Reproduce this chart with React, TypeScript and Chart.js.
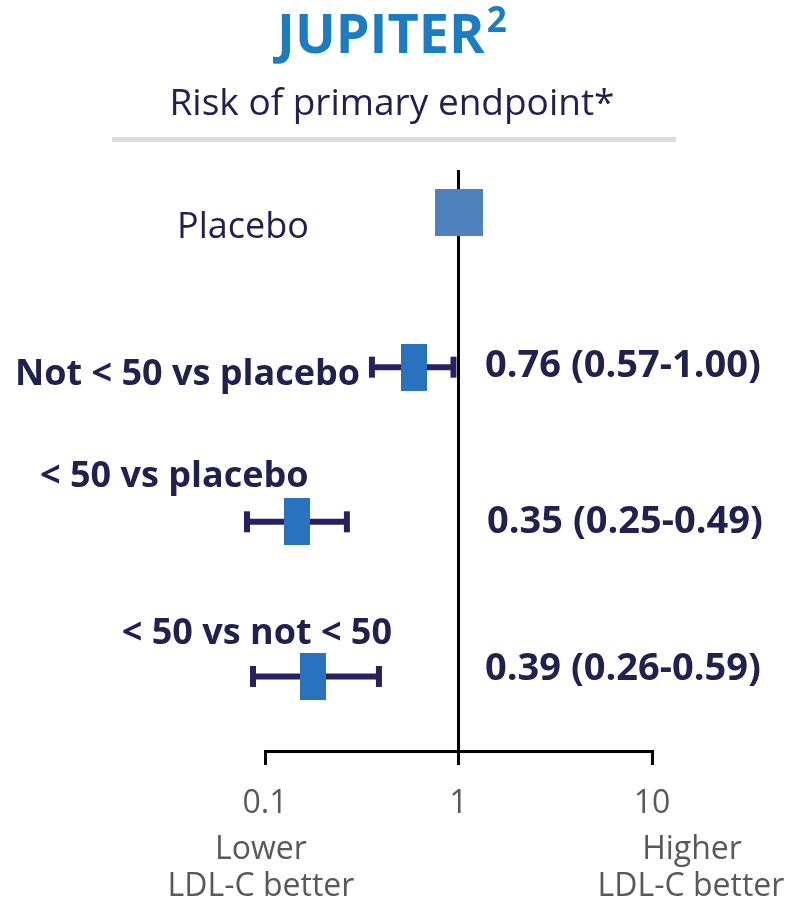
import { useEffect, useRef } from 'react';
import { Chart, registerables } from 'chart.js';

Chart.register(...registerables);

// ---------------- data ----------------
const rowLabels = ['Placebo', 'Not < 50 vs placebo', '< 50 vs placebo', '< 50 vs not < 50'];
const rowIndex = [0, 1, 2, 3];
// plotted point estimates (as drawn in the picture)
const estimates = [1, 0.589, 0.146, 0.177];
const ciLow: (number | null)[] = [null, 0.357, 0.0807, 0.0867];
const ciHigh: (number | null)[] = [null, 0.942, 0.265, 0.388];
const valueLabels = ['', '0.76 (0.57-1.00)', '0.35 (0.25-0.49)', '0.39 (0.26-0.59)'];
const xTicks = [0.1, 1, 10];
const titleText = 'JUPITER';
const titleSup = '2';
const subtitleText = 'Risk of primary endpoint*';
const footLeft = ['Lower', 'LDL-C better'];
const footRight = ['Higher', 'LDL-C better'];

// ---------------- styles / layout ----------------
const FONT = '"Open Sans", "Noto Sans", sans-serif';
const NAVY = '#22204f';
const WHISKER = '#27225f';
const GRAY_TEXT = '#595959';
const TITLE_BLUE = '#1a7cc2';

const labelLayout = [
  { x: 177, y: 238, align: 'left', weight: 400 },
  { x: 360, y: 385, align: 'right', weight: 700 },
  { x: 40, y: 487, align: 'left', weight: 700 },
  { x: 392, y: 644, align: 'right', weight: 700 },
];
const valueLayout = [null, { x: 485, y: 377 }, { x: 487, y: 533 }, { x: 485, y: 680 }];

function makeBox(w: number, h: number, color: string) {
  const c = document.createElement('canvas');
  c.width = w;
  c.height = h;
  const g = c.getContext('2d')!;
  g.fillStyle = color;
  g.fillRect(0, 0, w, h);
  return c;
}

const textPlugin = {
  id: 'forestText',
  afterDraw(chart: any) {
    const ctx = chart.ctx as CanvasRenderingContext2D;
    ctx.save();
    ctx.textBaseline = 'alphabetic';

    // title
    ctx.fillStyle = TITLE_BLUE;
    ctx.font = `700 54px ${FONT}`;
    ctx.textAlign = 'left';
    ctx.fillText(titleText, 277, 53);
    const tw = ctx.measureText(titleText).width;
    ctx.font = `700 35px ${FONT}`;
    ctx.fillText(titleSup, 277 + tw + 2, 32);

    // subtitle
    ctx.fillStyle = NAVY;
    ctx.font = `400 37px ${FONT}`;
    ctx.textAlign = 'center';
    ctx.fillText(subtitleText, 392, 115);

    // separator
    ctx.fillStyle = '#dcdcdc';
    ctx.fillRect(112, 137, 564, 5);

    // row labels
    rowLabels.forEach((lab, i) => {
      const l = labelLayout[i];
      ctx.fillStyle = NAVY;
      ctx.font = `${l.weight} 36px ${FONT}`;
      ctx.textAlign = l.align as CanvasTextAlign;
      ctx.fillText(lab, l.x, l.y);
    });

    // value labels
    valueLabels.forEach((v, i) => {
      const l = valueLayout[i];
      if (!l || !v) return;
      ctx.fillStyle = NAVY;
      ctx.font = `700 38px ${FONT}`;
      ctx.textAlign = 'left';
      ctx.fillText(v, l.x, l.y);
    });

    // footers
    ctx.fillStyle = GRAY_TEXT;
    ctx.font = `400 32px ${FONT}`;
    ctx.textAlign = 'center';
    ctx.fillText(footLeft[0], 261, 859);
    ctx.fillText(footLeft[1], 261, 896);
    ctx.fillText(footRight[0], 692, 859);
    ctx.fillText(footRight[1], 691, 896);
    ctx.restore();
  },
};

export default function App() {
  const ref = useRef<HTMLCanvasElement>(null);
  useEffect(() => {
    document.body.style.margin = '0';
    const canvas = ref.current!;
    const placeboBox = makeBox(48, 47, '#4f81bd');
    const effectBox = makeBox(26, 47, '#2872be');

    const whiskers: any[] = [];
    rowIndex.forEach((r, i) => {
      const lo = ciLow[i];
      const hi = ciHigh[i];
      if (lo == null || hi == null) return;
      whiskers.push({
        label: rowLabels[i] + ' CI',
        data: [
          { x: lo, y: r },
          { x: hi, y: r },
        ],
        showLine: true,
        clip: false,
        borderColor: WHISKER,
        borderWidth: 6,
        borderCapStyle: 'butt',
        pointStyle: 'line',
        rotation: 90,
        pointRadius: 10.5,
        pointHoverRadius: 40,
        pointBorderWidth: 6,
        pointBorderColor: WHISKER,
        pointBackgroundColor: WHISKER,
        order: 1,
      });
    });

    const squares = {
      label: 'Estimate',
      data: rowIndex.map((r, i) => ({ x: estimates[i], y: r })),
      pointStyle: (c: any) => (c.dataIndex === 0 ? placeboBox : effectBox),
      pointRadius: 5,
      pointHoverRadius: 40,
      clip: false,
      order: 0,
    };

    const chart = new Chart(canvas, {
      type: 'scatter',
      data: { datasets: [squares as any, ...whiskers] },
      options: {
        animation: false,
        responsive: false,
        devicePixelRatio: 1,
        events: [],
        layout: { padding: { left: 265, right: 137, top: 170, bottom: 88 } },
        plugins: {
          legend: { display: false },
          tooltip: { enabled: false },
        },
        scales: {
          x: {
            type: 'logarithmic',
            min: 0.1,
            max: 10,
            afterBuildTicks: (axis: any) => {
              axis.ticks = xTicks.map((v) => ({ value: v }));
            },
            afterFit: (axis: any) => {
              axis.height = 70;
            },
            ticks: {
              autoSkip: false,
              maxRotation: 0,
              padding: 20,
              color: GRAY_TEXT,
              font: { family: FONT, size: 32 },
              callback: (v: any) => String(v),
            },
            grid: {
              drawOnChartArea: true,
              drawTicks: true,
              tickLength: 14,
              lineWidth: 3,
              tickColor: '#000',
              color: (c: any) => (c.tick && c.tick.value === 1 ? '#000' : 'rgba(0,0,0,0)'),
            },
            border: { display: true, color: '#000', width: 3 },
          },
          y: {
            type: 'linear',
            display: false,
            reverse: true,
            min: -0.275,
            max: 3.482,
          },
        },
      } as any,
      plugins: [textPlugin],
    });
    return () => chart.destroy();
  }, []);
  return (
    <div style={{ position: 'absolute', left: 0, top: 0, width: 789, height: 909 }}>
      <canvas ref={ref} width={789} height={909} style={{ display: 'block' }} />
    </div>
  );
}
